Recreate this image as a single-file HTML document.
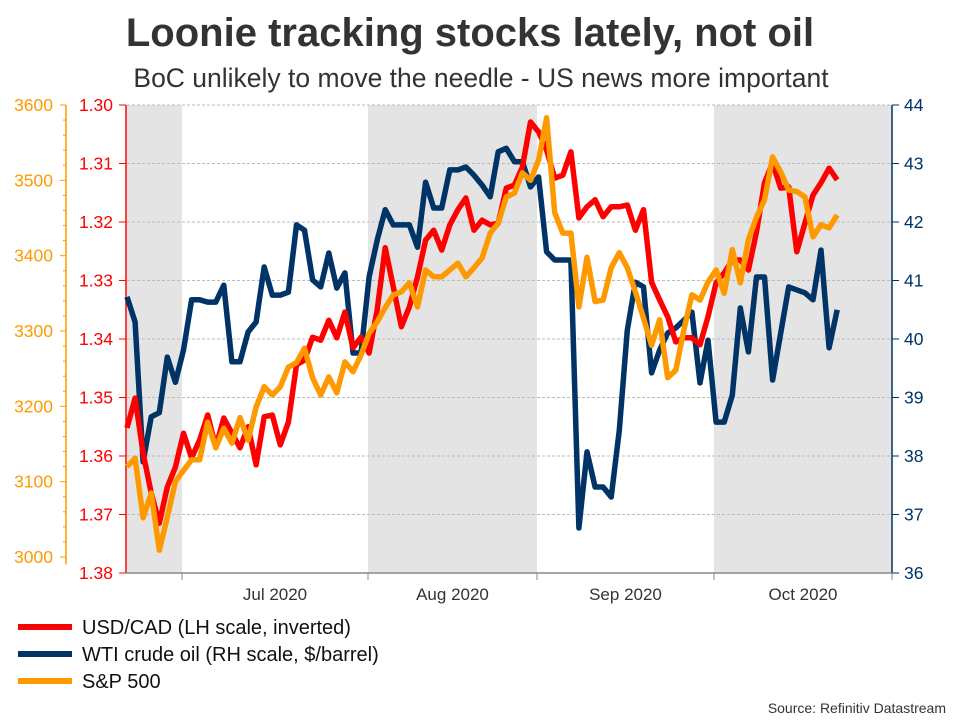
<!DOCTYPE html>
<html><head><meta charset="utf-8"><style>
body{margin:0;background:#fff;font-family:"Liberation Sans",Arial,sans-serif}
#wrap{position:relative;width:960px;height:720px;overflow:hidden}
</style></head><body>
<div id="wrap">
<svg id="svg" width="960" height="720" xmlns="http://www.w3.org/2000/svg" font-family="Liberation Sans, Arial, sans-serif">
<text x="470" y="46" text-anchor="middle" font-size="40" font-weight="bold" fill="#333">Loonie tracking stocks lately, not oil</text>
<text x="481" y="87" text-anchor="middle" font-size="26.5" fill="#333">BoC unlikely to move the needle - US news more important</text>
<g id="bg"></g><g id="grid"></g><g id="axes"></g><g id="lines"></g>
<g>
<line x1="18" y1="627" x2="72" y2="627" stroke="#ff0000" stroke-width="6"/>
<text x="82" y="634" font-size="20" fill="#111">USD/CAD (LH scale, inverted)</text>
<line x1="18" y1="654" x2="72" y2="654" stroke="#003366" stroke-width="6"/>
<text x="82" y="661" font-size="20" fill="#111">WTI crude oil (RH scale, $/barrel)</text>
<line x1="18" y1="681" x2="72" y2="681" stroke="#ff9900" stroke-width="6"/>
<text x="82" y="688" font-size="20" fill="#111">S&amp;P 500</text>
</g>
<text x="946" y="713" text-anchor="end" font-size="14" fill="#333">Source: Refinitiv Datastream</text>
</svg>
</div>
<script>
const usdcad=[1.3552,1.3501,1.3595,1.3663,1.3715,1.3653,1.3619,1.3561,1.3603,1.3573,1.3530,1.3585,1.3535,1.3561,1.3586,1.3550,1.3615,1.3533,1.3530,1.3581,1.3542,1.3444,1.3436,1.3397,1.3402,1.3368,1.3398,1.3354,1.3415,1.3397,1.3424,
1.3350,1.3244,1.3311,1.3379,1.3345,1.3294,1.3231,1.3214,1.3248,1.3205,1.3179,1.3159,1.3214,1.3197,1.3205,1.3202,1.3142,1.3137,1.3106,1.3029,1.3046,1.3077,1.3125,1.3120,1.3080,1.3193,1.3174,1.3162,1.3191,1.3174,1.3174,
1.3171,1.3214,1.3179,1.3303,1.3333,1.3362,1.3405,1.3398,1.3398,1.3410,1.3362,1.3304,1.3287,1.3265,1.3265,1.3282,1.3217,1.3133,1.3099,1.3142,1.3140,1.3251,1.3202,1.3154,1.3133,1.3108,1.3128];
const wti=[40.72,40.29,37.90,38.67,38.74,39.69,39.26,39.81,40.67,40.67,40.63,40.63,40.92,39.61,39.61,40.12,40.29,41.23,40.75,40.75,40.80,41.95,41.86,41.01,40.89,41.47,40.87,41.13,39.76,39.76,41.06,41.69,
42.21,41.95,41.95,41.95,41.57,42.68,42.24,42.24,42.89,42.89,42.94,42.80,42.63,42.43,43.20,43.26,43.03,43.03,42.60,42.77,41.49,41.35,41.35,41.35,36.77,38.07,37.47,37.47,37.3,38.44,
40.15,40.97,40.89,39.42,39.81,40.10,40.19,40.32,40.46,39.25,39.98,38.58,38.58,39.04,40.53,39.78,41.06,41.06,39.30,40.10,40.89,40.84,40.79,40.67,41.52,39.85,40.50];
const sp500=[3120,3131,3052,3085,3009,3053,3100,3115,3129,3129,3179,3145,3171,3151,3185,3155,3199,3226,3215,3226,3252,3258,3277,3238,3215,3239,3218,3259,3246,3268,3297,3312,
3331,3348,3352,3364,3332,3381,3372,3372,3381,3390,3372,3384,3397,3430,3443,3478,3483,3510,3500,3527,3583,3457,3430,3430,3332,3398,3339,3341,3384,3404,
3384,3352,3317,3281,3315,3238,3248,3301,3348,3341,3365,3381,3350,3408,3364,3421,3451,3474,3531,3511,3487,3485,3478,3425,3441,3437,3454];
const months=["Jul 2020","Aug 2020","Sep 2020","Oct 2020"];
const cadTicks=[1.30,1.31,1.32,1.33,1.34,1.35,1.36,1.37,1.38];
const wtiTicks=[36,37,38,39,40,41,42,43,44];
const spTicks=[3000,3100,3200,3300,3400,3500,3600];

const NS="http://www.w3.org/2000/svg";
const top_=105,bot=573,L=127,R=892;
const xS=i=>127+8.07*i;
const yCad=v=>top_+(v-1.30)/0.08*(bot-top_);
const yWti=v=>top_+(44-v)/8*(bot-top_);
const ySp=v=>105+(3600-v)*452/600;
const bounds=[127,182,368,537,714,892];
function mk(tag,attrs,parent){const e=document.createElementNS(NS,tag);for(const k in attrs)e.setAttribute(k,attrs[k]);document.getElementById(parent).appendChild(e);return e;}
[[0,1],[2,3],[4,5]].forEach((p,k)=>{
 const r=mk('rect',{x:bounds[p[0]],y:top_,width:bounds[p[1]]-bounds[p[0]],height:bot-top_,fill:'#e4e4e4'},'bg');
 
 
});
cadTicks.forEach(v=>{
 const l=mk('line',{x1:L,x2:R,y1:yCad(v),y2:yCad(v),stroke:'#bbb','stroke-dasharray':'3,2','stroke-width':1},'grid');
 
 
});
let a=mk('line',{x1:126,x2:126,y1:top_,y2:bot,stroke:'#ff0000','stroke-width':1.5},'axes');


cadTicks.forEach(v=>{
 mk('line',{x1:119,x2:126,y1:yCad(v),y2:yCad(v),stroke:'#ff0000'},'axes');
 const t=mk('text',{x:113,y:yCad(v)+6,'text-anchor':'end','font-size':17.5,fill:'#ff0000'},'axes');
 t.textContent=v.toFixed(2);
 
 
});
a=mk('line',{x1:66,x2:66,y1:ySp(3600),y2:ySp(2990),stroke:'#ff9900','stroke-width':1.5},'axes');


for(let v=3000;v<=3600;v+=20){const maj=v%100===0;mk('line',{x1:maj?60:63,x2:66,y1:ySp(v),y2:ySp(v),stroke:'#ff9900'},'axes');}
spTicks.forEach(v=>{
 const t=mk('text',{x:53,y:ySp(v)+6,'text-anchor':'end','font-size':17.5,fill:'#ff9900'},'axes');
 t.textContent=v;
 
 
});
a=mk('line',{x1:892,x2:892,y1:top_,y2:bot,stroke:'#003366','stroke-width':1.5},'axes');


wtiTicks.forEach(v=>{
 mk('line',{x1:892,x2:899,y1:yWti(v),y2:yWti(v),stroke:'#003366'},'axes');
 const t=mk('text',{x:904,y:yWti(v)+6,'font-size':17.5,fill:'#003366'},'axes');
 t.textContent=v;
 
 
});
a=mk('line',{x1:126,x2:892,y1:bot,y2:bot,stroke:'#888','stroke-width':1.5},'axes');


bounds.slice(1).forEach(x=>mk('line',{x1:x,x2:x,y1:bot,y2:bot+7,stroke:'#888'},'axes'));
months.forEach((m,k)=>{
 const t=mk('text',{x:(bounds[k+1]+bounds[k+2])/2,y:600,'text-anchor':'middle','font-size':17,fill:'#333'},'axes');
 t.textContent=m;
 
 
});
function line(data,yf,color,name){
 const d=data.map((v,i)=>(i?'L':'M')+xS(i).toFixed(1)+','+yf(v).toFixed(1)).join('');
 const p=mk('path',{d:d,fill:'none',stroke:color,'stroke-width':5.5,'stroke-linejoin':'round'},'lines');
 
 
}
line(wti,yWti,'#003366','wti-line');
line(usdcad,yCad,'#ff0000','usdcad-line');
line(sp500,ySp,'#ff9900','sp500-line');
</script>
</body></html>
